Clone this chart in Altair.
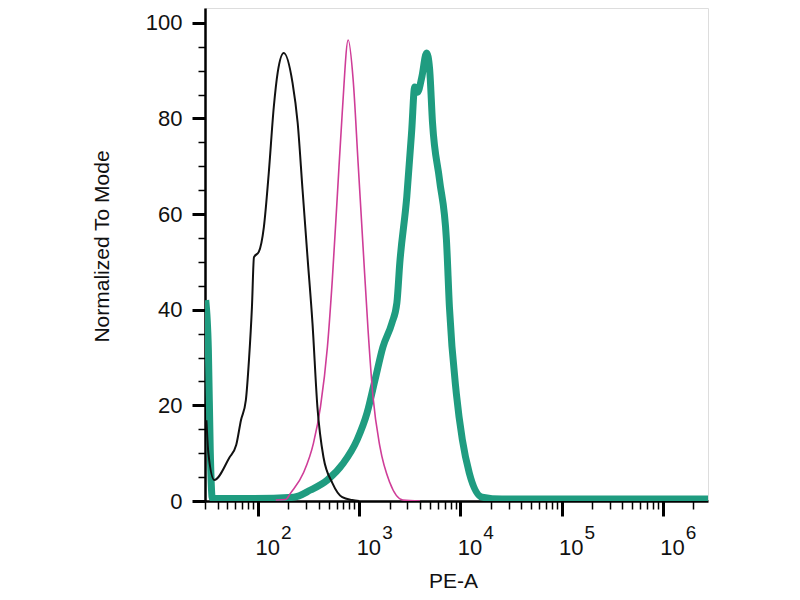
import altair as alt
import pandas as pd

# overlay histogram, values
black_x = [31, 32.4, 37, 52, 61, 68, 76, 81.6, 87.3, 91.4, 102, 114.5, 128, 143.5, 157, 180,
           220, 247, 276, 309, 346, 387, 444, 543, 681, 853, 1000]
black_y = [16.9, 10.0, 4.4, 9.0, 11.7, 16.9, 21.1, 29.5, 40.6, 51.0, 52.1, 57.3, 68.6, 82.4, 89.7, 93.7,
           87.4, 79.1, 65.1, 51.0, 37.2, 19.7, 9.2, 3.8, 0.8, 0.2, 0]

magenta_x = [150, 188, 211, 282, 354, 415, 486, 543, 608, 681, 780, 873, 977, 1094, 1225, 1371,
             1607, 2014, 2698, 4000]
magenta_y = [0.2, 0.3, 1.7, 5.9, 12.1, 19.7, 32.2, 46.2, 63.6, 81.2, 96.4, 88.1, 70.7, 53.1, 35.8, 21.8,
             11.3, 3.8, 0.2, 0]

green_x = [30.5, 32.4, 33.8, 35.4, 85, 225, 331, 486, 697, 955, 1197, 1435, 1719, 2108, 2360, 2523,
           2957, 3311, 3540, 3787, 4150, 4645, 4965, 5311, 6223, 7290, 7800, 9140, 10470, 12250,
           16440, 25820, 2.8e6]
green_y = [42, 31.6, 10.7, 0.6, 0.5, 0.8, 2.3, 4.4, 7.9, 12.8, 18.4, 25.3, 32.2, 37.2, 41.4, 49.8,
           63.6, 77.6, 86.6, 85.5, 88.5, 93.7, 90.5, 79.1, 67.2, 54.6, 40.6, 22.4, 12.8, 5.9,
           0.8, 0.4, 0.4]

# axis ticks
x_ticks = [30, 40, 50, 60, 70, 80, 90,
           100, 200, 300, 400, 500, 600, 700, 800, 900,
           1000, 2000, 3000, 4000, 5000, 6000, 7000, 8000, 9000,
           10000, 20000, 30000, 40000, 50000, 60000, 70000, 80000, 90000,
           100000, 200000, 300000, 400000, 500000, 600000, 700000, 800000, 900000,
           1000000, 2000000]
decades = [100, 1000, 10000, 100000, 1000000]
exponents = ["2", "3", "4", "5", "6"]
y_ticks = [0, 5, 10, 15, 20, 25, 30, 35, 40, 45, 50, 55, 60, 65, 70, 75, 80, 85, 90, 95, 100]

FONT = "Liberation Sans"
is_decade = "indexof([" + ",".join(str(d) for d in decades) + "], datum.value) >= 0"
is_major_y = "datum.value % 20 === 0"

x_axis = alt.Axis(
    values=x_ticks,
    labelExpr=f"{is_decade} ? '10' : ''",
    tickSize={"condition": {"test": is_decade, "value": 15}, "value": 8},
    tickWidth={"condition": {"test": is_decade, "value": 3}, "value": 1.5},
    tickColor="black",
    domainColor="black",
    domainWidth=2.5,
    grid=False,
    labelFont=FONT,
    labelFontSize=22,
    labelColor="#111",
    labelAlign="left",
    labelBaseline="alphabetic",
    labelOffset=-3,
    labelPadding=38,
    labelOverlap=False,
    labelFlush=False,
    title="PE-A",
    titleFont=FONT,
    titleFontSize=21,
    titleFontWeight="normal",
    titleColor="#111",
    titleX=248,
    titleY=80,
    titleBaseline="middle",
)

y_axis = alt.Axis(
    values=y_ticks,
    labelExpr=f"{is_major_y} ? datum.label : ''",
    tickSize={"condition": {"test": is_major_y, "value": 13}, "value": 7},
    tickWidth={"condition": {"test": is_major_y, "value": 3}, "value": 1.5},
    tickColor="black",
    domainColor="black",
    domainWidth=2.5,
    grid=False,
    labelFont=FONT,
    labelFontSize=22,
    labelColor="#111",
    labelPadding=10,
    labelOverlap=False,
    title="Normalized To Mode",
    titleFont=FONT,
    titleFontSize=21,
    titleFontWeight="normal",
    titleColor="#111",
    titleAngle=270,
    titleX=-103,
    titleY=238,
    titleAlign="center",
    titleBaseline="middle",
)

x_enc = alt.X("x:Q", scale=alt.Scale(type="log", domain=[30, 2.8e6], nice=False), axis=x_axis)
y_enc = alt.Y("y:Q", scale=alt.Scale(domain=[0, 103.1], nice=False, zero=False), axis=y_axis)


def curve(xs, ys, color, width):
    df = pd.DataFrame({"x": xs, "y": ys})
    return alt.Chart(df).mark_line(color=color, strokeWidth=width, clip=True, interpolate="monotone",
                                   strokeJoin="round").encode(x=x_enc, y=y_enc)


green = curve(green_x, green_y, "#1f9c80", 7)
magenta = curve(magenta_x, magenta_y, "#cf3d98", 1.6)
black = curve(black_x, black_y, "#111111", 2)

sup = alt.Chart(pd.DataFrame({"x": decades, "e": exponents})).mark_text(
    font=FONT, fontSize=19, color="#111", align="left", baseline="alphabetic", dx=23
).encode(x=x_enc, y=alt.value(531), text="e:N")

chart = alt.layer(green, magenta, black, sup).properties(
    width=503,
    height=493,
    autosize=alt.AutoSizeParams(type="none"),
    padding={"left": 197, "top": 0, "right": 40, "bottom": 97},
).configure_view(stroke="black", strokeWidth=1.5).configure(background="white")

chart.save("out.html", embed_options={"renderer": "svg", "actions": False})
